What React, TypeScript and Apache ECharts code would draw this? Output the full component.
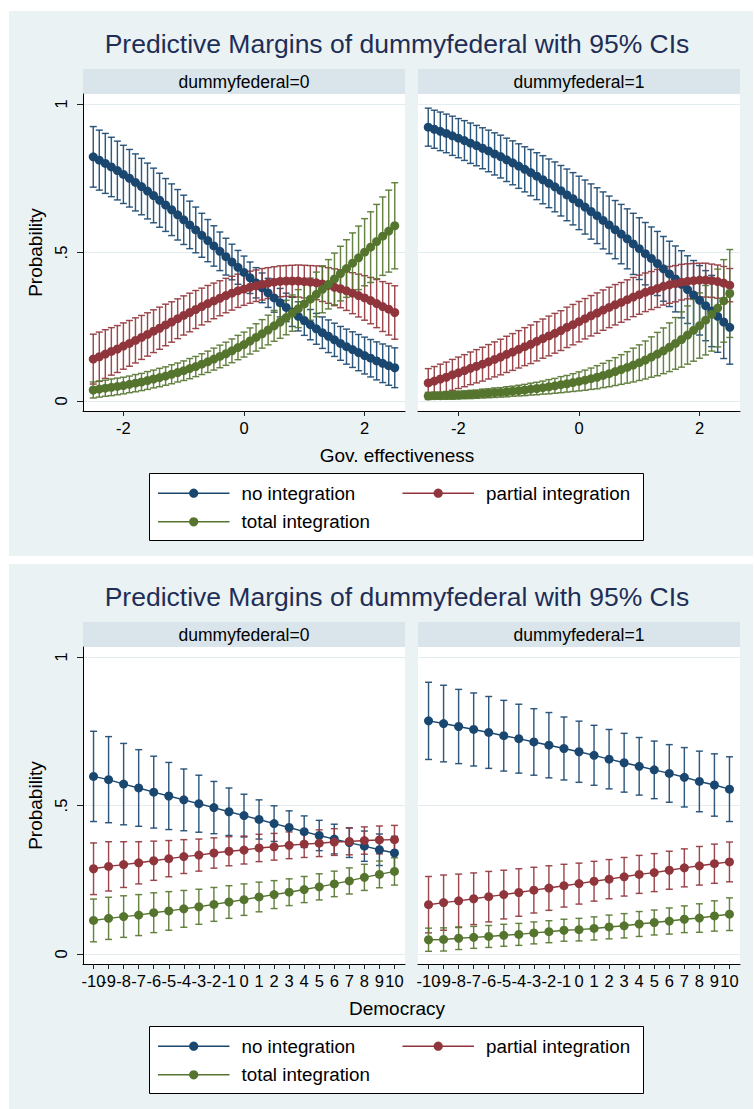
import React, { useEffect, useRef } from "react";
import * as echarts from "echarts";

// ---------- DATA ----------
const GOV_X = [-2.5, -2.4, -2.3, -2.2, -2.1, -2, -1.9, -1.8, -1.7, -1.6, -1.5, -1.4, -1.3, -1.2, -1.1, -1, -0.9, -0.8, -0.7, -0.6, -0.5, -0.4, -0.3, -0.2, -0.1, 0, 0.1, 0.2, 0.3, 0.4, 0.5, 0.6, 0.7, 0.8, 0.9, 1, 1.1, 1.2, 1.3, 1.4, 1.5, 1.6, 1.7, 1.8, 1.9, 2, 2.1, 2.2, 2.3, 2.4, 2.5];
const GOV_TICKS = [-2, 0, 2];
const DEM_X = [-10, -9, -8, -7, -6, -5, -4, -3, -2, -1, 0, 1, 2, 3, 4, 5, 6, 7, 8, 9, 10];
const Y_TICKS = [0, 0.5, 1];
const Y_TICK_LABELS = ["0", ".5", "1"];
const OUTCOMES = ["no integration", "partial integration", "total integration"];
const HEADERS = ["dummyfederal=0", "dummyfederal=1"];
const TITLE = "Predictive Margins of dummyfederal with 95% CIs";
const X_TITLES = ["Gov. effectiveness", "Democracy"];
const Y_TITLE = "Probability";

// Gov. effectiveness, dummyfederal=0 : margins and CI half-widths
const GOV0_NO = [.822, .811, .800, .788, .776, .763, .750, .736, .722, .707, .692, .676, .660, .644, .627, .610, .593, .576, .558, .540, .522, .504, .486, .468, .450, .433, .415, .398, .381, .364, .347, .331, .315, .300, .285, .271, .257, .243, .230, .218, .206, .194, .183, .173, .163, .153, .144, .135, .127, .119, .112];
const GOV0_PART = [.141, .149, .158, .167, .175, .185, .194, .204, .214, .224, .235, .245, .256, .266, .277, .288, .298, .308, .318, .328, .337, .346, .355, .363, .371, .377, .383, .388, .393, .397, .400, .403, .404, .404, .404, .402, .400, .398, .394, .389, .383, .378, .371, .363, .355, .347, .338, .328, .318, .309, .298];
const GOV0_TOT = [.037, .040, .043, .046, .049, .052, .056, .060, .064, .069, .074, .079, .084, .090, .096, .102, .109, .116, .124, .132, .141, .150, .159, .169, .180, .190, .202, .214, .226, .239, .253, .266, .281, .296, .311, .327, .343, .359, .376, .393, .411, .429, .446, .464, .482, .501, .518, .537, .555, .572, .590];
const GOV0_NO_CI = [.102, .101, .101, .100, .099, .098, .097, .096, .095, .094, .092, .091, .089, .087, .085, .083, .080, .077, .074, .071, .068, .065, .062, .060, .057, .055, .053, .051, .050, .049, .048, .048, .048, .049, .049, .050, .051, .052, .053, .055, .056, .057, .059, .060, .061, .062, .063, .064, .065, .066, .067];
const GOV0_PART_CI = [.084, .083, .082, .080, .079, .078, .077, .076, .074, .073, .072, .071, .070, .068, .067, .066, .065, .064, .062, .061, .060, .059, .058, .057, .056, .055, .054, .053, .053, .052, .052, .052, .052, .053, .054, .055, .056, .057, .059, .060, .062, .064, .066, .069, .072, .075, .078, .081, .084, .087, .090];
const GOV0_TOT_CI = [.027, .027, .027, .028, .028, .028, .028, .029, .029, .030, .030, .031, .031, .032, .032, .033, .034, .034, .035, .036, .037, .038, .039, .040, .041, .042, .044, .046, .048, .050, .052, .055, .058, .061, .064, .067, .071, .075, .079, .083, .087, .092, .097, .102, .107, .113, .119, .125, .132, .138, .145];

// Gov. effectiveness, dummyfederal=1
const GOV1_NO = [.922, .915, .908, .901, .893, .885, .877, .868, .860, .851, .842, .832, .823, .812, .802, .791, .780, .769, .757, .745, .733, .721, .708, .694, .681, .667, .653, .638, .624, .608, .593, .577, .562, .546, .529, .513, .496, .480, .463, .445, .428, .411, .393, .375, .357, .339, .321, .303, .285, .266, .248];
const GOV1_PART = [.061, .067, .074, .080, .088, .095, .102, .110, .117, .124, .132, .140, .148, .157, .165, .174, .183, .191, .201, .210, .219, .228, .237, .248, .257, .267, .277, .287, .296, .306, .315, .324, .332, .341, .350, .358, .366, .372, .379, .386, .391, .395, .400, .403, .405, .407, .407, .405, .402, .397, .390];
const GOV1_TOT = [.017, .018, .018, .019, .019, .020, .021, .022, .023, .025, .026, .028, .029, .031, .033, .035, .037, .040, .042, .045, .048, .051, .055, .058, .062, .066, .070, .075, .080, .086, .092, .099, .106, .113, .121, .129, .138, .148, .158, .169, .181, .194, .207, .222, .238, .254, .272, .292, .313, .337, .362];
const GOV1_NO_CI = [.064, .064, .065, .065, .066, .066, .067, .068, .068, .069, .070, .071, .072, .073, .074, .075, .076, .078, .079, .081, .082, .084, .085, .087, .088, .090, .091, .093, .094, .096, .097, .098, .100, .101, .103, .104, .105, .106, .108, .109, .110, .111, .113, .114, .116, .117, .118, .120, .121, .123, .124];
const GOV1_PART_CI = [.048, .049, .050, .051, .052, .053, .054, .055, .056, .057, .058, .059, .060, .061, .062, .063, .064, .065, .066, .066, .067, .067, .067, .068, .068, .068, .068, .068, .068, .068, .068, .068, .067, .067, .066, .066, .065, .064, .064, .063, .062, .061, .060, .059, .058, .057, .057, .056, .056, .056, .056];
const GOV1_TOT_CI = [.012, .012, .012, .013, .013, .013, .013, .014, .014, .015, .015, .016, .016, .017, .017, .018, .019, .020, .021, .022, .024, .025, .027, .028, .030, .032, .034, .036, .039, .041, .044, .047, .050, .053, .057, .060, .064, .068, .073, .077, .082, .087, .093, .098, .104, .110, .117, .124, .131, .139, .148];

// Democracy, dummyfederal=0
const DEM0_NO = [.598, .587, .572, .559, .545, .532, .519, .506, .493, .479, .466, .453, .439, .426, .412, .399, .387, .375, .363, .351, .340];
const DEM0_PART = [.287, .295, .301, .307, .314, .321, .328, .333, .340, .346, .350, .357, .361, .366, .370, .373, .377, .379, .382, .384, .385];
const DEM0_TOT = [.113, .120, .126, .131, .139, .145, .152, .159, .167, .175, .183, .192, .200, .208, .217, .226, .236, .246, .258, .268, .278];
const DEM0_NO_CI = [.152, .145, .137, .129, .121, .113, .104, .096, .088, .080, .072, .066, .060, .056, .053, .051, .050, .050, .051, .053, .056];
const DEM0_PART_CI = [.087, .083, .077, .071, .066, .061, .057, .054, .051, .049, .047, .046, .045, .045, .045, .045, .045, .045, .046, .047, .048];
const DEM0_TOT_CI = [.072, .071, .070, .069, .067, .065, .062, .059, .057, .055, .053, .050, .047, .045, .044, .044, .043, .044, .044, .045, .046];

// Democracy, dummyfederal=1
const DEM1_NO = [.785, .776, .766, .756, .746, .735, .725, .714, .703, .692, .681, .669, .656, .644, .632, .620, .608, .595, .581, .569, .555];
const DEM1_PART = [.166, .173, .179, .186, .193, .200, .207, .215, .222, .230, .237, .245, .252, .260, .268, .274, .282, .290, .297, .304, .310];
const DEM1_TOT = [.048, .049, .053, .056, .059, .063, .066, .071, .075, .080, .082, .086, .091, .095, .101, .106, .111, .117, .121, .128, .134];
const DEM1_NO_CI = [.130, .129, .125, .123, .121, .119, .116, .112, .110, .106, .103, .101, .100, .099, .097, .097, .097, .100, .102, .105, .109];
const DEM1_PART_CI = [.095, .093, .090, .087, .085, .082, .080, .077, .075, .072, .069, .067, .066, .065, .064, .064, .064, .064, .065, .066, .067];
const DEM1_TOT_CI = [.039, .039, .038, .037, .037, .037, .037, .037, .037, .037, .038, .039, .040, .041, .042, .042, .044, .045, .048, .051, .055];

// ---------- STYLE / LAYOUT ----------
const COLORS = ["#1A476F", "#90353B", "#55752F"];
const FONT = '"Liberation Sans", Arial, Helvetica, sans-serif';
const BG = "#EAF2F3";
const STRIP = "#D9E5EB";
const TITLE_COLOR = "#1E2E57";
const W = 754;
const H = 1109;
const PANEL_DY = 553;

const PANELS = [
  {
    x: GOV_X, range: 2.67, ticks: GOV_TICKS, xTitle: X_TITLES[0],
    subs: [
      { means: [GOV0_NO, GOV0_PART, GOV0_TOT], cis: [GOV0_NO_CI, GOV0_PART_CI, GOV0_TOT_CI] },
      { means: [GOV1_NO, GOV1_PART, GOV1_TOT], cis: [GOV1_NO_CI, GOV1_PART_CI, GOV1_TOT_CI] },
    ],
  },
  {
    x: DEM_X, range: 10.7, ticks: DEM_X, xTitle: X_TITLES[1],
    subs: [
      { means: [DEM0_NO, DEM0_PART, DEM0_TOT], cis: [DEM0_NO_CI, DEM0_PART_CI, DEM0_TOT_CI] },
      { means: [DEM1_NO, DEM1_PART, DEM1_TOT], cis: [DEM1_NO_CI, DEM1_PART_CI, DEM1_TOT_CI] },
    ],
  },
];

function buildOption() {
  const grid: any[] = [];
  const xAxis: any[] = [];
  const yAxis: any[] = [];
  const series: any[] = [];
  const graphic: any[] = [];

  const subLefts = [83, 418];
  const subW = 322;
  const labelStyle = { fontSize: 16.5, color: "#000", fontFamily: FONT, margin: 8, hideOverlap: false };

  PANELS.forEach((panel, p) => {
    const oy = p * PANEL_DY;
    graphic.push({
      type: "rect", z: -10,
      shape: { x: 9, y: 11 + oy, width: 744, height: 545 },
      style: { fill: BG },
    });
    graphic.push({
      type: "text", x: 397, y: 44 + oy,
      style: {
        text: TITLE, fill: TITLE_COLOR, font: `26.5px ${FONT}`,
        textAlign: "center", textVerticalAlign: "middle",
      },
    });
    graphic.push({
      type: "text", x: 397, y: 455 + oy,
      style: {
        text: panel.xTitle, fill: "#000", font: `19px ${FONT}`,
        textAlign: "center", textVerticalAlign: "middle",
      },
    });

    panel.subs.forEach((sub, s) => {
      const gi = p * 2 + s;
      const left = subLefts[s];
      graphic.push({
        type: "rect", z: -10,
        shape: { x: left, y: 69 + oy, width: subW, height: 25 },
        style: { fill: STRIP },
      });
      graphic.push({
        type: "text", x: left + subW / 2, y: 81.5 + oy,
        style: {
          text: HEADERS[s], fill: "#000", font: `17.5px ${FONT}`,
          textAlign: "center", textVerticalAlign: "middle",
        },
      });

      grid.push({
        left, top: 94 + oy, width: subW, height: 317,
        show: true, backgroundColor: "#ffffff", borderWidth: 0,
      });

      // main x axis: ticks everywhere, labels for all ticks but the first
      const xi = xAxis.length;
      xAxis.push({
        gridIndex: gi, type: "value", position: "bottom",
        min: -panel.range, max: panel.range,
        axisLine: { show: true, onZero: false, lineStyle: { color: "#000", width: 1 } },
        axisTick: { show: true, customValues: panel.ticks, length: 5, lineStyle: { color: "#222", width: 1 } },
        axisLabel: { show: true, customValues: panel.ticks.slice(1), ...labelStyle },
        splitLine: { show: false },
      });
      // helper x axis carrying only the first label (so Stata-like overlapping labels all stay)
      xAxis.push({
        gridIndex: gi, type: "value", position: "bottom",
        min: -panel.range, max: panel.range,
        axisLine: { show: false, onZero: false },
        axisTick: { show: false },
        axisLabel: { show: true, customValues: panel.ticks.slice(0, 1), ...labelStyle },
        splitLine: { show: false },
      });

      yAxis.push({
        gridIndex: gi, type: "value", min: -0.0337, max: 1.0337,
        axisLine: { show: s === 0, onZero: false, lineStyle: { color: "#000", width: 1 } },
        axisTick: { show: s === 0, customValues: Y_TICKS, length: 6, lineStyle: { color: "#222", width: 1 } },
        axisLabel: {
          show: s === 0, customValues: Y_TICKS, rotate: 90, margin: 14,
          fontSize: 16.5, color: "#000", fontFamily: FONT,
          formatter: (v: number) => {
            const i = Y_TICKS.findIndex((t) => Math.abs(t - v) < 1e-9);
            return i >= 0 ? Y_TICK_LABELS[i] : "";
          },
        },
        splitLine: { show: true, lineStyle: { color: "#E3ECEF", width: 1 } },
        name: s === 0 ? Y_TITLE : "",
        nameLocation: "middle", nameGap: 38, nameRotate: 90,
        nameTextStyle: { fontSize: 19, color: "#000", fontFamily: FONT },
      });

      sub.means.forEach((m, k) => {
        const c = sub.cis[k];
        const color = COLORS[k];
        series.push({
          type: "custom", name: OUTCOMES[k] + " CI",
          xAxisIndex: xi, yAxisIndex: gi, silent: true, z: 2,
          data: panel.x.map((xv, i) => [xv, m[i] - c[i], m[i] + c[i]]),
          encode: { x: 0, y: [1, 2] },
          renderItem: (_params: any, api: any) => {
            const xv = api.value(0);
            const a = api.coord([xv, api.value(1)]);
            const b = api.coord([xv, api.value(2)]);
            const hw = 3.5;
            const style = { stroke: color, lineWidth: 1.45, opacity: 0.9 };
            return {
              type: "group",
              children: [
                { type: "line", shape: { x1: a[0], y1: a[1], x2: b[0], y2: b[1] }, style },
                { type: "line", shape: { x1: a[0] - hw, y1: a[1], x2: a[0] + hw, y2: a[1] }, style },
                { type: "line", shape: { x1: b[0] - hw, y1: b[1], x2: b[0] + hw, y2: b[1] }, style },
              ],
            };
          },
        });
      });
      sub.means.forEach((m, k) => {
        const color = COLORS[k];
        series.push({
          type: "line", name: OUTCOMES[k],
          xAxisIndex: xi, yAxisIndex: gi, silent: true, z: 3,
          data: panel.x.map((xv, i) => [xv, m[i]]),
          symbol: "circle", symbolSize: 9, showSymbol: true,
          lineStyle: { color, width: 1.4 },
          itemStyle: { color },
        });
      });
    });

    graphic.push({
      type: "rect",
      shape: { x: 149.5, y: 473.5 + oy, width: 494, height: 67 },
      style: { fill: "#ffffff", stroke: "#000", lineWidth: 1 },
    });
    const items = [
      { k: 0, lx: 158, ly: 493.2 },
      { k: 1, lx: 402.5, ly: 493.2 },
      { k: 2, lx: 158, ly: 521.8 },
    ];
    items.forEach(({ k, lx, ly }) => {
      const y = ly + oy;
      graphic.push({
        type: "line",
        shape: { x1: lx, y1: y, x2: lx + 71.5, y2: y },
        style: { stroke: COLORS[k], lineWidth: 1.5 },
      });
      graphic.push({
        type: "circle",
        shape: { cx: lx + 35.7, cy: y, r: 4.6 },
        style: { fill: COLORS[k] },
      });
      graphic.push({
        type: "text", x: lx + 83.5, y,
        style: {
          text: OUTCOMES[k], fill: "#000", font: `18.8px ${FONT}`,
          textAlign: "left", textVerticalAlign: "middle",
        },
      });
    });
  });

  return {
    animation: false,
    backgroundColor: "#ffffff",
    textStyle: { fontFamily: FONT },
    grid, xAxis, yAxis, series, graphic,
  };
}

export default function App() {
  const ref = useRef<HTMLDivElement>(null);
  useEffect(() => {
    if (!ref.current) return;
    const chart = echarts.init(ref.current, undefined, { renderer: "svg", width: W, height: H });
    chart.setOption(buildOption() as any);
    return () => chart.dispose();
  }, []);
  return (
    <div
      ref={ref}
      style={{ position: "fixed", left: 0, top: 0, width: W, height: H, background: "#fff" }}
    />
  );
}
